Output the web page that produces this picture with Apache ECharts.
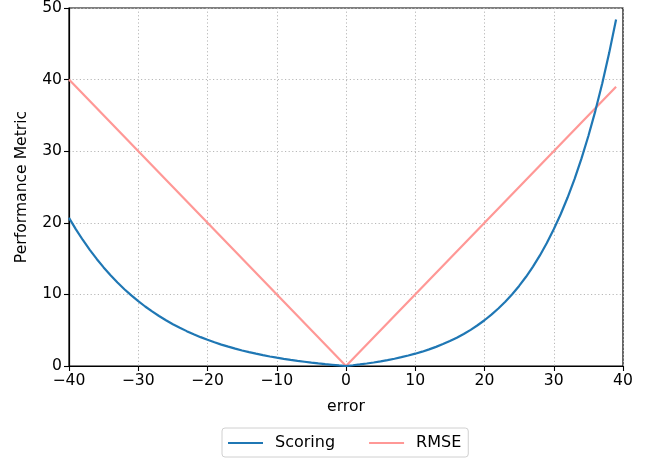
<!DOCTYPE html>
<html><head><meta charset="utf-8">
<script src="https://cdn.jsdelivr.net/npm/echarts@6/dist/echarts.min.js"></script>
<style>html,body{margin:0;padding:0;background:#fff}#c{width:651px;height:459px}</style>
</head><body><div id="c"></div>
<script>
const errorX = [-40,-39,-38,-37,-36,-35,-34,-33,-32,-31,-30,-29,-28,-27,-26,-25,-24,-23,-22,-21,-20,-19,-18,-17,-16,-15,-14,-13,-12,-11,-10,-9,-8,-7,-6,-5,-4,-3,-2,-1,0,1,2,3,4,5,6,7,8,9,10,11,12,13,14,15,16,17,18,19,20,21,22,23,24,25,26,27,28,29,30,31,32,33,34,35,36,37,38,39];
const scoring = [20.69,19.09,17.60,16.22,14.95,13.77,12.67,11.66,10.72,9.86,9.05,8.31,7.62,6.98,6.39,5.84,5.34,4.87,4.43,4.03,3.66,3.31,2.99,2.70,2.42,2.17,1.94,1.72,1.52,1.33,1.16,1.00,0.85,0.71,0.59,0.47,0.36,0.26,0.17,0.08,0,0.105,0.22,0.35,0.49,0.65,0.82,1.01,1.23,1.46,1.72,2.00,2.32,2.67,3.06,3.48,3.95,4.47,5.05,5.69,6.39,7.17,8.03,8.97,10.02,11.18,12.46,13.88,15.44,17.17,19.09,21.20,23.53,26.11,28.96,32.12,35.60,39.45,43.70,48.40];
const rmseX = [-40,0,39];
const rmseY = [40,0,39];
const xTicks = [-40,-30,-20,-10,0,10,20,30,40];
const yTicks = [0,10,20,30,40,50];

const font = 'DejaVu Sans';
const fs = 15.6;
const chart = echarts.init(document.getElementById('c'));
const fmt = v => String(v).replace('-', '\u2212');
chart.setOption({
  animation: false,
  backgroundColor: '#fff',
  grid: {left: 69, top: 7, width: 554, height: 359, show: true, borderColor: '#000', borderWidth: 1.2, backgroundColor: 'transparent'},
  xAxis: {
    type: 'value', min: xTicks[0], max: xTicks[xTicks.length-1], interval: 10,
    name: 'error', nameLocation: 'middle', nameGap: 33,
    nameTextStyle: {fontFamily: font, fontSize: fs, color: '#000'},
    axisLine: {show: true, onZero: false, lineStyle: {color: '#000', width: 1.2}},
    axisTick: {show: true, length: 5, lineStyle: {color: '#000', width: 1.1}},
    axisLabel: {fontFamily: font, fontSize: fs, color: '#000', margin: 7, formatter: fmt},
    splitLine: {show: true, lineStyle: {color: '#b8b8b8', type: [1.2, 2.4], width: 1}}
  },
  yAxis: {
    type: 'value', min: yTicks[0], max: yTicks[yTicks.length-1], interval: 10,
    name: 'Performance Metric', nameLocation: 'middle', nameGap: 39,
    nameTextStyle: {fontFamily: font, fontSize: fs, color: '#000'},
    axisLine: {show: true, onZero: false, lineStyle: {color: '#000', width: 1.2}},
    axisTick: {show: true, length: 5, lineStyle: {color: '#000', width: 1.1}},
    axisLabel: {fontFamily: font, fontSize: fs, color: '#000', margin: 7},
    splitLine: {show: true, lineStyle: {color: '#b8b8b8', type: [1.2, 2.4], width: 1}}
  },
  legend: {
    left: 222, top: 428, orient: 'horizontal',
    itemWidth: 35, itemHeight: 2, itemGap: 34,
    padding: [7, 7, 6, 6],
    borderColor: '#d0d0d0', borderWidth: 1, borderRadius: 3,
    textStyle: {fontFamily: font, fontSize: 16, color: '#000', padding: [0, 0, 0, 7]},
    icon: 'rect',
    data: ['Scoring', 'RMSE']
  },
  series: [
    {name: 'Scoring', type: 'line', data: errorX.map((x, i) => [x, scoring[i]]), showSymbol: false, smooth: false,
     lineStyle: {color: '#1f77b4', width: 2.2}, itemStyle: {color: '#1f77b4'}, z: 3},
    {name: 'RMSE', type: 'line', data: rmseX.map((x, i) => [x, rmseY[i]]), showSymbol: false,
     lineStyle: {color: '#ff9896', width: 2.2}, itemStyle: {color: '#ff9896'}, z: 2}
  ]
});
</script></body></html>
